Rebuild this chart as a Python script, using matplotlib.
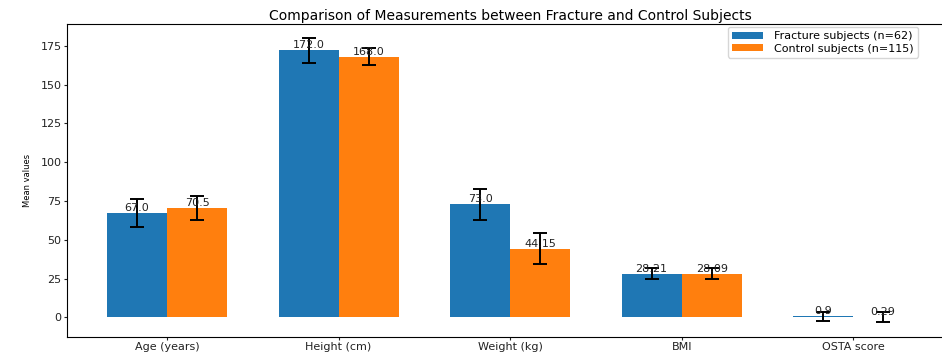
import matplotlib
matplotlib.use('Agg')
import matplotlib.pyplot as plt
import numpy as np

categories = ['Age (years)', 'Height (cm)', 'Weight (kg)', 'BMI', 'OSTA score']
fracture_means = [67.0, 172.0, 73.0, 28.21, 0.9]
fracture_err = [9.0, 8.0, 10.0, 3.5, 2.9]
control_means = [70.5, 168.0, 44.15, 28.09, 0.29]
control_err = [8.0, 5.5, 10.0, 3.5, 3.0]
series_labels = ['Fracture subjects (n=62)', 'Control subjects (n=115)']


def plot_comparison():
    W, H = 942, 352
    fig = plt.figure(figsize=(W/100, H/100), dpi=100)
    # axes runs a little past the right edge, like the cropped original
    left, right, bottom, top = 66.7, 953.5, 336.5, 24.0
    ax = fig.add_axes([left/W, (H-bottom)/H, (right-left)/W, (bottom-top)/H])

    x = np.arange(len(categories))
    width = 0.35
    ekw = dict(capsize=4.7, ecolor='black', error_kw=dict(elinewidth=1.4, capthick=1.4))
    b1 = ax.bar(x - width/2, fracture_means, width, yerr=fracture_err,
                label=series_labels[0], color='#1f77b4', **ekw)
    b2 = ax.bar(x + width/2, control_means, width, yerr=control_err,
                label=series_labels[1], color='#ff7f0e', **ekw)

    for bars in (b1, b2):
        for rect in bars:
            h = rect.get_height()
            ax.text(rect.get_x() + rect.get_width()/2, h, str(h),
                    ha='center', va='bottom', fontsize=8, color='#222222')

    ax.set_xticks(x)
    ax.set_xticklabels(categories)
    ax.set_ylim(-12.3, 189)
    ax.set_yticks(np.arange(0, 176, 25))
    ax.tick_params(axis='both', labelsize=8, length=2.2, pad=1.5, colors='#222222')
    ax.set_ylabel('Mean values', fontsize=6, labelpad=6)
    ax.set_title('Comparison of Measurements between Fracture and Control Subjects',
                 fontsize=10, pad=3)
    ax.spines['right'].set_visible(False)
    ax.legend(loc='upper left', bbox_to_anchor=(0.746, 0.99), fontsize=8,
              handlelength=2.8, handleheight=0.6, handletextpad=1.0,
              labelspacing=0.25, borderaxespad=0.0, borderpad=0.35)

    fig.savefig('out.png', dpi=100)


def main():
    plot_comparison()


if __name__ == '__main__':
    main()
